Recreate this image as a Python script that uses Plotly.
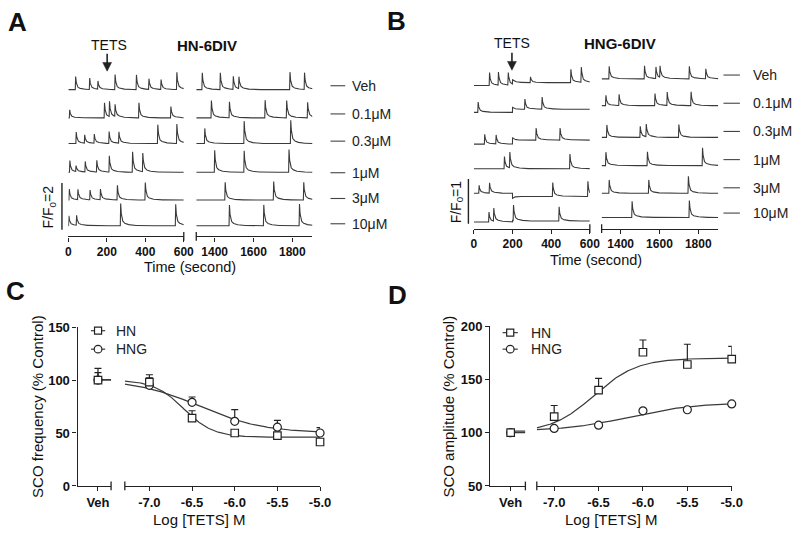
import numpy as np
import plotly.graph_objects as go

# ---------------- DATA ----------------
ROWS = ["Veh", "0.1μM", "0.3μM", "1μM", "3μM", "10μM"]

# Panel A (HN-6DIV): spike times (s) and spike amplitudes (ΔF/F0)
A_LEFT_T = [
    [38, 111, 154, 243, 354, 419, 482, 564],
    [7, 188, 214, 243, 367, 533],
    [41, 85, 135, 212, 263, 465, 564],
    [8, 40, 88, 148, 213, 334, 387],
    [5, 50, 113, 167, 255, 400],
    [3, 43, 272, 558],
]
A_LEFT_AMP = [
    [0.56, 0.49, 0.35, 0.65, 0.63, 0.46, 0.42, 0.74],
    [0.35, 0.65, 0.65, 0.51, 0.65, 0.49],
    [0.49, 0.35, 0.39, 0.51, 0.49, 0.81, 0.83],
    [0.50, 0.25, 0.45, 0.50, 0.70, 0.88, 0.80],
    [0.47, 0.44, 0.42, 0.46, 0.63, 0.75],
    [0.42, 0.42, 0.95, 0.92],
]
A_RIGHT_T = [
    [1336, 1429, 1496, 1525, 1788, 1863],
    [1383, 1476, 1660, 1771, 1879],
    [1349, 1552, 1792],
    [1400, 1552, 1783],
    [1454, 1704, 1859],
    [1476, 1653, 1837],
]
A_RIGHT_AMP = [
    [0.72, 0.72, 0.56, 0.51, 0.75, 0.72],
    [0.74, 0.69, 0.76, 0.74, 0.67],
    [0.65, 0.96, 1.00],
    [0.94, 0.92, 0.97],
    [0.76, 0.79, 0.76],
    [0.89, 0.89, 0.93],
]

# Panel B (HNG-6DIV)
B_LEFT_T = [
    [81, 127, 178, 293, 502, 556],
    [22, 264, 353],
    [56, 115, 322, 446],
    [158, 186, 497],
    [27, 81, 408, 590],
    [78, 103, 205, 441],
]
B_LEFT_AMP = [
    [0.29, 0.29, 0.28, 0.13, 0.30, 0.34],
    [0.23, 0.23, 0.27],
    [0.22, 0.20, 0.27, 0.27],
    [0.27, 0.35, 0.33],
    [0.18, 0.23, 0.31, 0.34],
    [0.22, 0.29, 0.35, 0.32],
]
B_LEFT_STEP = [0.065, 0.07, 0.09, 0.0, -0.07, 0.02]   # baseline shift at TETS addition
B_RIGHT_T = [
    [1341, 1523, 1582, 1603, 1754, 1839],
    [1324, 1392, 1577, 1640, 1763],
    [1329, 1501, 1532, 1700],
    [1324, 1538, 1822],
    [1341, 1545, 1749],
    [1459, 1754],
]
B_RIGHT_AMP = [
    [0.28, 0.29, 0.26, 0.26, 0.28, 0.22],
    [0.23, 0.25, 0.27, 0.30, 0.31],
    [0.28, 0.25, 0.28, 0.29],
    [0.30, 0.31, 0.40],
    [0.30, 0.30, 0.38],
    [0.36, 0.38],
]
TETS_TIME = 200

# Panel C: SCO frequency (% control)
LOG_CONC = [-7.0, -6.5, -6.0, -5.5, -5.0]
C_HN = [98, 64, 50, 47.5, 41.5]
C_HN_ERR = [7, 7, 1.5, 1.0, 1.5]
C_HNG = [95, 79, 61, 55.5, 50]
C_HNG_ERR = [7, 5, 11, 6.5, 5]
C_VEH_HN, C_VEH_HN_ERR = 100, 7
C_VEH_HNG, C_VEH_HNG_ERR = 100, 11
# Panel D: SCO amplitude (% control)
D_HN = [115, 140, 175.5, 164, 169]
D_HN_ERR = [10.5, 11, 11.5, 19, 12]
D_HNG = [104, 107, 120.5, 121.5, 127]
D_HNG_ERR = [1, 1.5, 1.5, 1, 1]
D_VEH_HN, D_VEH_HN_ERR = 100, 1.5
D_VEH_HNG, D_VEH_HNG_ERR = 100, 1

# sigmoidal dose-response fits: (bottom, top, logEC50, hill)
C_HN_FIT = (46, 100, -6.6, -2.5)
C_HNG_FIT = (50, 100.5, -6.41, -1.16)
D_HN_FIT = (100, 170, -6.55, 1.8)
D_HNG_FIT = (101.5, 128, -6.15, 1.2)
VEH_LOG = -10.0

# ---------------- STYLE / LAYOUT ----------------
FONT = "Arial, Liberation Sans, Helvetica, sans-serif"
INK = "#222222"
TR = "#3a3a3a"
W, H = 800, 537


def X(p):
    return p / W


def Y(p):
    return 1 - p / H


A_OFF = [6.29, 5.08, 3.98, 2.75, 1.56, 0.46]
B_OFF_L = [3.20, 2.60, 1.89, 1.34, 0.79, 0.15]
B_OFF_R = [3.35, 2.75, 2.04, 1.41, 0.79, 0.25]
A_PX_UNIT, B_PX_UNIT = 24.0, 46.0
A_AX_Y, B_AX_Y, TOP_Y = 236, 228, 56


def spike_trace(t, times, amps):
    y = np.zeros_like(t)
    for s, a in zip(times, amps):
        d = t - s
        up = np.clip(1 + d / 2.0, 0, 1)
        dp = np.clip(d, 0, None)
        down = 0.75 * np.exp(-dp / 4.0) + 0.25 * np.exp(-dp / 25.0)
        y += a * np.where(d < 0, up, down)
    return y


def step_trace(t, s):
    dp = np.clip(t - TETS_TIME, 0, None)
    return np.where(t >= TETS_TIME, s * (1 + 0.6 * np.exp(-dp / 10.0)), 0.0)


def hill(x, p):
    b, tp, c, h = p
    x = np.asarray(x, float)
    return b + (tp - b) / (1 + 10 ** ((c - x) * h))


fig = go.Figure()
tl = np.arange(0, 600.01, 0.5)
trA = np.arange(1305, 1904.01, 0.5)
trB = np.arange(1302, 1903.01, 0.5)
line = dict(color=TR, width=1.1)

for i in range(6):
    fig.add_trace(go.Scatter(x=tl, y=A_OFF[i] + spike_trace(tl, A_LEFT_T[i], A_LEFT_AMP[i]),
                             mode="lines", line=line, xaxis="x", yaxis="y", hoverinfo="skip"))
    fig.add_trace(go.Scatter(x=trA, y=A_OFF[i] + spike_trace(trA, A_RIGHT_T[i], A_RIGHT_AMP[i]),
                             mode="lines", line=line, xaxis="x2", yaxis="y", hoverinfo="skip"))
    fig.add_trace(go.Scatter(x=tl, y=B_OFF_L[i] + spike_trace(tl, B_LEFT_T[i], B_LEFT_AMP[i])
                             + step_trace(tl, B_LEFT_STEP[i]),
                             mode="lines", line=line, xaxis="x3", yaxis="y2", hoverinfo="skip"))
    fig.add_trace(go.Scatter(x=trB, y=B_OFF_R[i] + spike_trace(trB, B_RIGHT_T[i], B_RIGHT_AMP[i]),
                             mode="lines", line=line, xaxis="x4", yaxis="y2", hoverinfo="skip"))


# dose-response panels (index 0 = HN squares, index 1 = HNG circles)
def add_dr(xv, xl, ya, lo, fits, data, errs, veh, veh_err, xrng_veh):
    xs = np.linspace(lo, -5.0, 300)
    for p in fits:
        fig.add_trace(go.Scatter(x=xs, y=hill(xs, p), mode="lines",
                                 line=dict(color=TR, width=1.2), xaxis=xl, yaxis=ya, hoverinfo="skip"))
        v = float(hill([VEH_LOG], p)[0])
        fig.add_trace(go.Scatter(x=[0, xrng_veh], y=[v, v], mode="lines",
                                 line=dict(color=TR, width=1.2), xaxis=xv, yaxis=ya, hoverinfo="skip"))
    syms = ["square", "circle"]
    sizes = [7.5, 8]
    for k in [1, 0]:  # HNG first, HN drawn on top
        mk = dict(symbol=syms[k], size=sizes[k], color="white", line=dict(color=INK, width=1.2))

        def eb(e):
            return dict(type="data", symmetric=False, array=e, arrayminus=[0] * len(e),
                        color=INK, thickness=1.2, width=3.5)
        fig.add_trace(go.Scatter(x=LOG_CONC, y=data[k], mode="markers", marker=mk,
                                 error_y=eb(errs[k]), xaxis=xl, yaxis=ya, cliponaxis=False,
                                 hoverinfo="skip"))
        fig.add_trace(go.Scatter(x=[0], y=[veh[k]], mode="markers", marker=mk,
                                 error_y=eb([veh_err[k]]), xaxis=xv, yaxis=ya, cliponaxis=False,
                                 hoverinfo="skip"))


add_dr("x5", "x6", "y3", -7.288, [C_HN_FIT, C_HNG_FIT], [C_HN, C_HNG], [C_HN_ERR, C_HNG_ERR],
       [C_VEH_HN, C_VEH_HNG], [C_VEH_HN_ERR, C_VEH_HNG_ERR], 0.392)
add_dr("x7", "x8", "y4", -7.196, [D_HN_FIT, D_HNG_FIT], [D_HN, D_HNG], [D_HN_ERR, D_HNG_ERR],
       [D_VEH_HN, D_VEH_HNG], [D_VEH_HN_ERR, D_VEH_HNG_ERR], 0.42)


# ---------------- AXES ----------------
def xax(d0, d1, rng, vals, txt, anchor, size):
    return dict(domain=[X(d0), X(d1)], range=rng, anchor=anchor, tickvals=vals,
                ticktext=["<b>%s</b>" % s for s in txt], showline=True, linecolor=INK, linewidth=1.4,
                ticks="outside", ticklen=4, tickwidth=1.3, tickcolor=INK, showgrid=False,
                zeroline=False, fixedrange=True,
                tickfont=dict(family=FONT, size=size, color="#111"))


def yax(b, t, rng, vals, anchor, visible):
    d = dict(domain=[Y(b), Y(t)], range=rng, anchor=anchor, showgrid=False, zeroline=False,
             fixedrange=True, visible=visible)
    if visible:
        d.update(tickvals=vals, ticktext=["<b>%d</b>" % v for v in vals], showline=True,
                 linecolor=INK, linewidth=1.4, ticks="outside", ticklen=4, tickwidth=1.3,
                 tickcolor=INK, tickfont=dict(family=FONT, size=13, color="#111"))
    return d


layout = dict(
    width=W, height=H, margin=dict(l=0, r=0, t=0, b=0), showlegend=False,
    paper_bgcolor="white", plot_bgcolor="white",
    xaxis=xax(66.5, 184, [0, 600], [0, 200, 400, 600], ["0", "200", "400", "600"], "y", 12),
    xaxis2=xax(196.7, 315, [1305, 1904], [1400, 1600, 1800], ["1400", "1600", "1800"], "y", 12),
    xaxis3=xax(479.3, 597.3, [0, 600], [0, 200, 400, 600], ["0", "200", "400", "600"], "y2", 12),
    xaxis4=xax(609.3, 728, [1302, 1903], [1400, 1600, 1800], ["1400", "1600", "1800"], "y2", 12),
    xaxis5=xax(76, 110, [-0.608, 0.392], [0], ["Veh"], "y3", 13),
    xaxis6=xax(124, 322.7, [-7.288, -5.0], LOG_CONC, ["-7.0", "-6.5", "-6.0", "-5.5", "-5.0"], "y3", 13),
    xaxis7=xax(496, 531.7, [-0.58, 0.42], [0], ["Veh"], "y4", 13),
    xaxis8=xax(543.3, 741.7, [-7.196, -5.0], LOG_CONC, ["-7.0", "-6.5", "-6.0", "-5.5", "-5.0"], "y4", 13),
    yaxis=yax(A_AX_Y, TOP_Y, [0, (A_AX_Y - TOP_Y) / A_PX_UNIT], None, "x", False),
    yaxis2=yax(B_AX_Y, TOP_Y, [0, (B_AX_Y - TOP_Y) / B_PX_UNIT], None, "x3", False),
    yaxis3=yax(492.7, 329.3, [0, 150], [0, 50, 100, 150], "x5", True),
    yaxis4=yax(492.7, 328.3, [50, 200], [50, 100, 150, 200], "x7", True),
)
fig.update_layout(**layout)

shapes = []
ann = []


def pline(x0, y0, x1, y1, w=1.3, color=INK):
    shapes.append(dict(type="line", xref="paper", yref="paper", x0=X(x0), y0=Y(y0), x1=X(x1), y1=Y(y1),
                       line=dict(color=color, width=w), layer="above"))


def text(x, y, s, size=13, bold=False, anchor="center", angle=0, color="#111"):
    ann.append(dict(xref="paper", yref="paper", x=X(x), y=Y(y), text=("<b>%s</b>" % s) if bold else s,
                    showarrow=False, xanchor=anchor, yanchor="middle", textangle=angle,
                    font=dict(family=FONT, size=size, color=color)))


# panel letters
text(15, 15, "A", 26, True)
text(400, 14, "B", 26, True)
text(13, 292, "C", 26, True)
text(402, 296, "D", 26, True)

# titles and TETS arrows
text(107.5, 39, "TETS", 14)
text(208, 40, "HN-6DIV", 15, True)
text(518, 37.5, "TETS", 14)
text(627.5, 38, "HNG-6DIV", 15, True)
for ax_x, y0, y1 in [(106, 48, 66), (518, 47, 65)]:
    pline(ax_x, y0, ax_x, y1 - 8, 1.6)
    shapes.append(dict(type="path", xref="paper", yref="paper",
                       path="M %f,%f L %f,%f L %f,%f Z" % (X(ax_x - 4.5), Y(y1 - 9), X(ax_x + 4.5), Y(y1 - 9),
                                                          X(ax_x), Y(y1)),
                       fillcolor=INK, line=dict(color=INK, width=0.5), layer="above"))

# row labels
A_LAB_Y = [81, 110, 138, 170.5, 197, 223]
B_LAB_Y = [70, 99, 128, 157, 186, 212]
for i, r in enumerate(ROWS):
    pline(333.3, A_LAB_Y[i], 348.3, A_LAB_Y[i], 1.1, "#444")
    text(353.3, A_LAB_Y[i], r, 14, anchor="left", color="#222")
    pline(733.3, B_LAB_Y[i], 750, B_LAB_Y[i], 1.1, "#444")
    text(761.7, B_LAB_Y[i], r, 14, anchor="left", color="#222")

# scale bars
shapes.append(dict(type="line", xref="paper", yref="y", x0=X(60), x1=X(60), y0=0.29, y1=2.29,
                   line=dict(color=INK, width=1.4)))
text(47, 206, "F/F<sub>0</sub>=2", 14, angle=-90)
shapes.append(dict(type="line", xref="paper", yref="y2", x0=X(473.7), x1=X(473.7), y0=0.11, y1=1.11,
                   line=dict(color=INK, width=1.4)))
text(462, 200, "F/F<sub>0</sub>=1", 14, angle=-90)

# axis break ticks
for bx, by in [(184, A_AX_Y), (196.7, A_AX_Y), (597.3, B_AX_Y), (609.3, B_AX_Y),
               (110, 492.7), (124, 492.7), (531.7, 492.7), (543.3, 492.7)]:
    pline(bx, by - 4.5, bx, by + 4.5, 1.3)

# axis titles
text(190.5, 267.5, "Time (second)", 14.5)
text(603.5, 260, "Time (second)", 14.5)
text(200, 527, "Log [TETS] M", 15)
text(619.5, 527, "Log [TETS] M", 15)
text(35, 411, "SCO frequency (% Control)", 15, angle=-90)
text(453, 411, "SCO amplitude (% Control)", 15, angle=-90)

# legends
for (lx0, lx1, tx, y1, y2) in [(89.5, 104, 113.3, 333, 352), (508.5, 524, 535, 335, 352)]:
    cx = (lx0 + lx1) / 2
    for yy, sym, lab in [(y1, "rect", "HN"), (y2, "circle", "HNG")]:
        pline(lx0, yy, lx1, yy, 1.2, TR)
        hw = 3.6 if sym == "rect" else 3.9
        shapes.append(dict(type=sym, xref="paper", yref="paper", x0=X(cx - hw), x1=X(cx + hw),
                           y0=Y(yy + hw), y1=Y(yy - hw), fillcolor="white",
                           line=dict(color=INK, width=1.2), layer="above"))
        text(tx, yy, lab, 14, anchor="left", color="#222")

fig.update_layout(shapes=shapes, annotations=ann)
fig.write_html("out.html", config={"displayModeBar": False},
               post_script="document.body.style.margin='0px';document.body.style.overflow='hidden';")
